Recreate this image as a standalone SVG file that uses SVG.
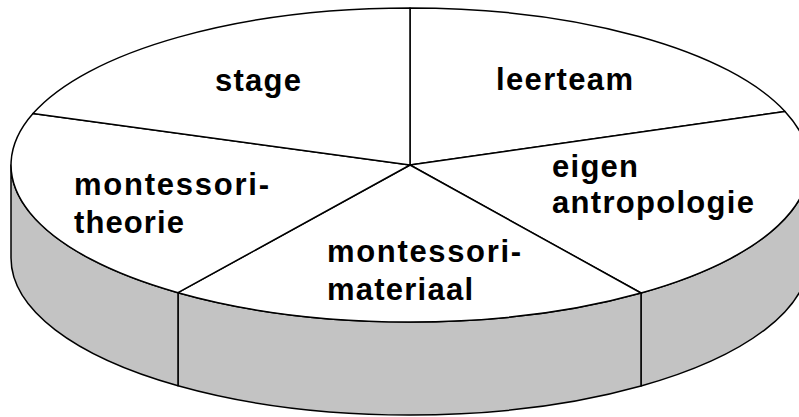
<svg xmlns="http://www.w3.org/2000/svg" width="799" height="417" viewBox="0 0 799 417">
<style>
.top{fill:#ffffff;stroke:#000;stroke-width:1.5;stroke-linejoin:round}
.side{fill:#c3c3c3;stroke:#000;stroke-width:1.5;stroke-linejoin:round}
.lbl{font-family:"Liberation Sans",Arial,sans-serif;font-weight:bold;font-size:31px;fill:#000}
</style>
<rect width="799" height="417" fill="#fff"/>
<g id="slice-leerteam">
<path class="top" d="M410,165 L410,8 A399,157 0 0,1 785,111.4 Z"/>
<text class="lbl" x="496" y="90" textLength="137" lengthAdjust="spacing">leerteam</text>
</g>
<g id="slice-eigen-antropologie">
<path class="side" d="M809,165 A399,157 0 0,1 641,293 L641,386 A399,157 0 0,0 809,258 Z"/>
<path class="top" d="M410,165 L785,111.4 A399,157 0 0,1 641,293 Z"/>
<text class="lbl" x="552" y="177" textLength="86" lengthAdjust="spacing">eigen</text>
<text class="lbl" x="552" y="213" textLength="202" lengthAdjust="spacing">antropologie</text>
</g>
<g id="slice-montessori-materiaal">
<path class="side" d="M641,293 A399,157 0 0,1 178,292.7 L178,385.7 A399,157 0 0,0 641,386 Z"/>
<path class="top" d="M410,165 L641,293 A399,157 0 0,1 178,292.7 Z"/>
<text class="lbl" x="327" y="262" textLength="194" lengthAdjust="spacing">montessori-</text>
<text class="lbl" x="327" y="300" textLength="146" lengthAdjust="spacing">materiaal</text>
</g>
<g id="slice-montessori-theorie">
<path class="side" d="M178,292.7 A399,157 0 0,1 11,165 L11,258 A399,157 0 0,0 178,385.7 Z"/>
<path class="top" d="M410,165 L178,292.7 A399,157 0 0,1 33,113.6 Z"/>
<text class="lbl" x="74" y="195" textLength="195" lengthAdjust="spacing">montessori-</text>
<text class="lbl" x="74" y="233" textLength="110" lengthAdjust="spacing">theorie</text>
</g>
<g id="slice-stage">
<path class="top" d="M410,165 L33,113.6 A399,157 0 0,1 410,8 Z"/>
<text class="lbl" x="215" y="91" textLength="86" lengthAdjust="spacing">stage</text>
</g>
<g id="connectors"></g>
</svg>
